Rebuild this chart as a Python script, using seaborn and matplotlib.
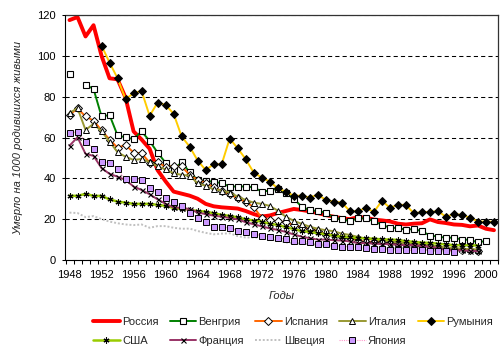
import numpy as np
import pandas as pd
import matplotlib
matplotlib.use("Agg")
import matplotlib.pyplot as plt
from matplotlib.ticker import MultipleLocator
import seaborn as sns

nan = np.nan
years = list(range(1948, 2002))

russia = [117.5, 119.0, 109.5, 115.0, 100.0, 89.0, 88.5, 79.5, 63.0, 59.0,
          54.5, 44.0, 38.5, 33.5, 32.5, 31.5, 30.0, 27.5, 26.3, 25.8,
          25.5, 25.2, 24.0, 22.5, 21.3, 21.8, 23.0, 24.0, 25.0, 24.5,
          23.8, 23.0, 22.0, 21.2, 20.5, 20.0, 21.0, 20.8, 19.8, 19.4,
          18.9, 17.8, 17.4, 17.8, 18.0, 19.9, 18.6, 18.1, 17.4, 17.2,
          16.5, 16.9, 15.3, 14.6]
hungary = [91.2, nan, 85.8, 83.8, 70.3, 71.0, 61.0, 60.1, 59.2, 63.0,
           58.3, 52.6, 47.6, 44.3, 47.9, 43.0, 39.2, 38.7, 38.4, 37.6,
           36.0, 36.0, 36.0, 35.6, 33.5, 34.0, 35.0, 32.8, 30.0, 26.1,
           24.4, 24.0, 23.2, 20.8, 20.0, 19.0, 20.4, 20.4, 19.0, 17.3,
           15.8, 15.7, 14.8, 15.2, 14.1, 12.0, 11.5, 10.9, 10.9, 10.0,
           9.9, 8.6, 9.4, nan]
spain = [71.0, 74.3, 70.3, 68.3, 63.5, 59.0, 55.0, 56.4, 52.6, 52.3,
         47.7, 48.2, 45.4, 46.1, 45.8, 41.7, 39.2, 37.9, 35.6, 33.8,
         32.2, 30.2, 28.4, 26.0, 20.5, 19.5, 19.0, 18.5, 17.1, 16.0,
         15.1, 14.3, 12.3, 12.5, 11.3, 10.9, 9.5, 8.9, 9.0, 8.9,
         8.1, 7.8, 7.6, 7.2, 7.1, 6.7, 6.0, 5.5, 5.5, 5.0,
         4.9, 4.5, nan, nan]
italy = [72.0, 74.4, 63.7, 66.7, 63.0, 58.0, 52.8, 50.6, 49.0, 49.5,
         47.9, 45.8, 44.4, 42.5, 41.7, 41.3, 37.6, 36.3, 34.6, 34.0,
         33.0, 31.1, 29.4, 28.1, 27.5, 26.5, 24.2, 21.2, 19.2, 17.7,
         16.3, 15.3, 14.6, 14.1, 12.9, 12.3, 11.3, 10.5, 10.2, 9.6,
         9.3, 8.5, 8.2, 8.2, 8.0, 7.3, 6.6, 6.2, 6.0, 5.5,
         5.4, 5.1, nan, nan]
romania = [nan, nan, nan, nan, 105.0, 96.7, 89.0, 78.8, 81.7, 82.8,
           70.6, 77.1, 76.0, 71.6, 60.5, 55.5, 48.7, 44.1, 46.9, 46.9,
           59.5, 54.7, 49.4, 42.8, 40.4, 38.4, 35.1, 33.5, 31.5, 31.5,
           30.6, 32.0, 29.4, 28.6, 28.1, 24.0, 23.8, 25.6, 23.5, 29.0,
           25.6, 27.0, 27.0, 22.8, 23.5, 23.5, 23.9, 21.2, 22.5, 22.1,
           20.7, 18.8, 18.8, 18.7]
usa = [31.5, 31.4, 32.4, 31.4, 31.4, 29.7, 28.6, 28.1, 27.5, 27.5,
       27.5, 27.0, 26.5, 25.5, 25.0, 24.5, 24.0, 23.7, 22.9, 22.1,
       21.6, 20.9, 20.0, 19.3, 18.8, 17.7, 17.2, 16.1, 15.2, 14.1,
       13.8, 13.1, 12.6, 11.9, 11.5, 11.2, 10.8, 10.6, 10.4, 10.1,
       10.0, 9.8, 9.2, 8.9, 8.5, 8.4, 8.0, 7.6, 7.3, 7.2,
       7.2, 7.1, nan, nan]
france = [56.0, 60.1, 52.0, 51.0, 45.0, 42.2, 40.8, 39.2, 36.0, 34.3,
          32.2, 29.7, 27.5, 25.8, 25.5, 25.0, 23.2, 22.5, 21.7, 21.2,
          20.6, 19.9, 18.5, 17.5, 16.5, 15.5, 14.7, 13.8, 12.5, 11.4,
          10.7, 10.0, 10.0, 9.7, 9.5, 9.1, 8.3, 8.3, 8.0, 7.8,
          7.8, 7.5, 7.3, 7.3, 6.8, 6.5, 5.9, 4.9, 4.8, 4.7,
          4.6, 4.3, nan, nan]
sweden = [23.2, 23.0, 21.0, 21.5, 20.0, 18.8, 18.0, 17.4, 17.1, 17.4,
          15.8, 16.6, 16.6, 15.8, 15.3, 15.4, 14.2, 13.3, 12.6, 12.9,
          13.1, 11.7, 11.0, 11.1, 10.8, 9.9, 9.6, 8.6, 8.3, 8.0,
          7.8, 7.5, 6.9, 6.9, 6.8, 7.0, 6.4, 6.8, 5.9, 6.1,
          5.8, 5.8, 6.0, 6.1, 5.2, 4.8, 4.4, 4.1, 4.0, 3.6,
          nan, nan, nan, nan]
japan = [62.0, 62.9, 58.0, 54.4, 48.2, 47.7, 44.4, 39.5, 39.8, 39.3,
         35.1, 33.2, 30.4, 28.6, 26.4, 23.2, 20.4, 18.8, 16.0, 16.0,
         15.8, 14.4, 13.9, 12.7, 11.9, 11.4, 10.9, 10.1, 9.5, 9.3,
         8.7, 7.8, 7.8, 7.1, 6.6, 6.5, 6.2, 5.7, 5.4, 5.2,
         4.9, 4.9, 4.9, 4.7, 4.7, 4.6, 4.5, 4.4, 4.1, nan,
         nan, nan, nan, nan]

names = ["Россия", "Венгрия", "Испания", "Италия", "Румыния",
         "США", "Франция", "Швеция", "Япония"]
y_ticks = [0, 20, 40, 60, 80, 100, 120]
x_tick_labels = list(range(1948, 2001, 4))

sns.set_style("white")
plt.rcParams["font.family"] = ["Liberation Sans", "DejaVu Sans"]

fig = plt.figure(figsize=(5.02, 3.56), dpi=100)
ax = fig.add_axes([65.5 / 502, 96 / 356, 432.5 / 502, 245 / 356])

styles = {
    "Россия": dict(color="#FF0000", lw=2.8, marker=None),
    "Венгрия": dict(color="#008000", lw=1.4, marker="s", ms=4.0, mfc="white", mec="black", mew=0.8),
    "Испания": dict(color="#FF6600", lw=1.4, marker="D", ms=3.6, mfc="white", mec="black", mew=0.7),
    "Италия": dict(color="#999933", lw=1.4, marker="^", ms=4.4, mfc="white", mec="black", mew=0.7),
    "Румыния": dict(color="#FFCC00", lw=1.4, marker="D", ms=3.9, mfc="black", mec="black", mew=0.7),
    "США": dict(color="#99CC00", lw=1.8, marker=(6, 2, 0), ms=4.3, mfc="black", mec="black", mew=0.8),
    "Франция": dict(color="#993366", lw=1.4, marker="x", ms=3.6, mfc="black", mec="black", mew=0.8),
    "Швеция": dict(color="#C0C0C0", lw=1.4, marker=None, ls=(0, (1, 1))),
    "Япония": dict(color="#FF99CC", lw=0.8, marker="s", ms=4.4, mfc="#CC99FF", mec="black", mew=0.7, ls=(0, (1, 1))),
}
series = [russia, hungary, spain, italy, romania, usa, france, sweden, japan]

for name, vals in zip(names, series):
    s = pd.Series(vals, index=years, dtype=float)
    groups = s.isna().cumsum()
    valid = s.notna()
    first = True
    for _, seg in s[valid].groupby(groups[valid]):
        kw = dict(styles[name])
        sns.lineplot(x=list(seg.index), y=list(seg.values), ax=ax,
                     label=name if first else "_nolegend_", legend=False, **kw)
        first = False

if ax.get_legend() is not None:
    ax.get_legend().remove()

ax.set_xlim(1947.5, 2001.5)
ax.set_ylim(0, 120)
ax.set_yticks(y_ticks)
ax.set_xticks(x_tick_labels)
ax.set_xticklabels([str(v) for v in x_tick_labels])
ax.xaxis.set_minor_locator(MultipleLocator(1, offset=0.5))
ax.tick_params(axis="x", which="major", length=0, pad=7, labelsize=8, colors="black")
ax.tick_params(axis="x", which="minor", length=3, width=0.75, direction="out", color="black", bottom=True)
ax.tick_params(axis="y", which="major", length=2.5, width=0.75, direction="out", pad=4.5,
               labelsize=8, colors="black", left=True)

ax.grid(axis="y", color="black", lw=0.75, ls=(0, (4, 3)))
ax.grid(axis="x", visible=False)
ax.set_axisbelow(True)

for side in ["left", "bottom"]:
    ax.spines[side].set_color("black")
    ax.spines[side].set_linewidth(0.8)
for side in ["top", "right"]:
    ax.spines[side].set_visible(True)
    ax.spines[side].set_color("#333333")
    ax.spines[side].set_linewidth(0.9)

ax.set_ylabel("Умерло на 1000 родившихся живыми", fontsize=8, fontstyle="italic")
ax.yaxis.set_label_coords(-0.098, 0.5)
ax.set_xlabel("Годы", fontsize=8, fontstyle="italic")
ax.xaxis.set_label_coords(0.5, -0.125)

handles, labels = ax.get_legend_handles_labels()
hmap = dict(zip(labels, handles))
order = ["Россия", "США", "Венгрия", "Франция", "Испания", "Швеция", "Италия", "Япония", "Румыния"]
fig.legend([hmap[o] for o in order], order, ncol=5, loc="upper left",
           bbox_to_anchor=(93 / 502, 1 - 317 / 356), frameon=False, fontsize=8,
           handlelength=2.4, handletextpad=0.2, columnspacing=1.0, labelspacing=0.8,
           borderpad=0, borderaxespad=0)

fig.savefig("out.png", dpi=100)
